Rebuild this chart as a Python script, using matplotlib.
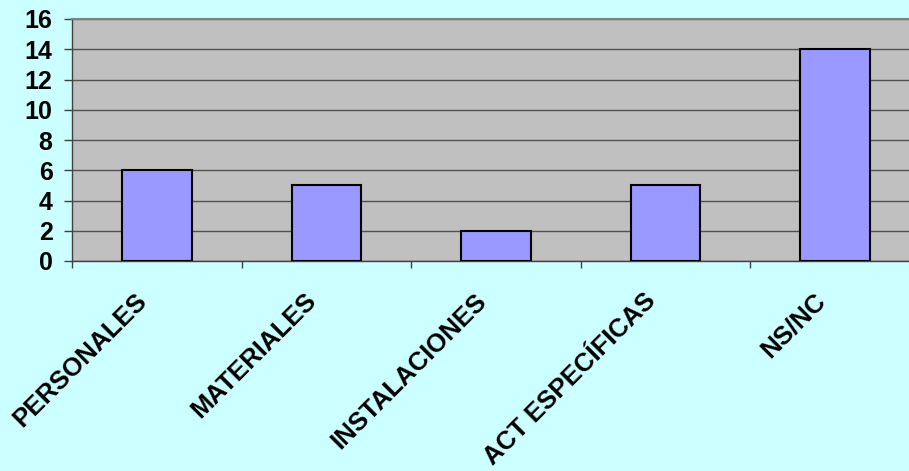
import numpy as np
import matplotlib.pyplot as plt
import matplotlib.transforms as mtransforms
from matplotlib.ticker import FixedLocator

categories = ['PERSONALES', 'MATERIALES', 'INSTALACIONES', 'ACT ESPECÍFICAS', 'NS/NC']
values = [6, 5, 2, 5, 14]
yticks = [0, 2, 4, 6, 8, 10, 12, 14, 16]

plt.rcParams['font.family'] = ['Liberation Sans', 'DejaVu Sans']

fig = plt.figure(figsize=(9.09, 4.71), dpi=100, facecolor='#CCFFFF')
# plot area runs a bit past the right edge, as in the original
ax = fig.add_axes([72 / 909, 1 - 261 / 471, 848 / 909, 242 / 471])
ax.set_facecolor('#C0C0C0')

x = np.arange(len(categories))
ax.bar(x, values, width=0.41, color='#9999FF', edgecolor='black', linewidth=1.5, zorder=3)

ax.set_xlim(-0.5, len(categories) - 0.5)
ax.set_ylim(0, 16)
ax.set_yticks(yticks)
ax.yaxis.grid(True, color='#505050', linewidth=1, zorder=1)
ax.set_axisbelow(True)

ax.set_xticks(x)
ax.set_xticklabels(categories, rotation=45, ha='right', va='top', rotation_mode='anchor',
                   fontsize=18.5, fontweight='bold')
ax.tick_params(axis='x', which='major', length=0, pad=20)
shift = mtransforms.ScaledTranslation(-22 / 100, 0, fig.dpi_scale_trans)
for lbl in ax.get_xticklabels():
    lbl.set_transform(lbl.get_transform() + shift)
ax.xaxis.set_minor_locator(FixedLocator(np.arange(-0.5, len(categories), 1)))
ax.tick_params(axis='x', which='minor', length=5, width=1, color='#404040', direction='out')

for lbl in ax.get_yticklabels():
    lbl.set_fontsize(18)
    lbl.set_fontweight('bold')
ax.tick_params(axis='y', length=6, width=1, color='#404040', direction='out', pad=8)

for s in ['left', 'bottom']:
    ax.spines[s].set_color('#404040')
    ax.spines[s].set_linewidth(1)
ax.spines['top'].set_color('#808080')
ax.spines['top'].set_linewidth(1.5)
ax.spines['right'].set_visible(False)

fig.savefig('out.png', dpi=100, facecolor=fig.get_facecolor())
